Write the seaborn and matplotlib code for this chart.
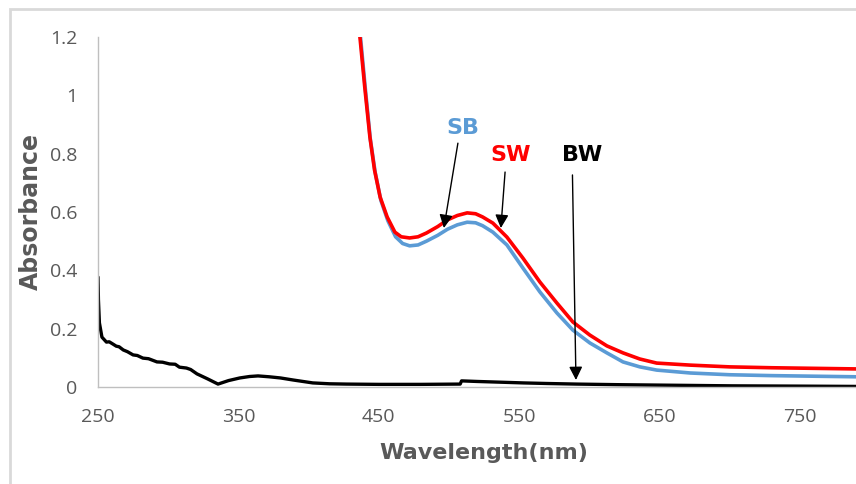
import matplotlib
matplotlib.use("Agg")
import matplotlib.pyplot as plt
import seaborn as sns
from matplotlib.patches import Rectangle

# ---------------- data ----------------
sw_wl = [436.6, 440, 443.7, 447, 451, 456, 461.5, 466, 472, 478, 484, 492, 499, 506,
         513, 519, 524, 531.3, 541.3, 552.7, 564.8, 576.9, 588.3, 600.4, 612.5, 624,
         636, 648, 672, 700, 730, 760, 790]
sw_abs = [1.2, 1.03, 0.857, 0.744, 0.651, 0.583, 0.531, 0.515, 0.511, 0.515, 0.528,
          0.55, 0.573, 0.588, 0.597, 0.594, 0.583, 0.562, 0.514, 0.442, 0.360, 0.288,
          0.223, 0.178, 0.141, 0.117, 0.096, 0.082, 0.075, 0.069, 0.066, 0.064, 0.062]

sb_wl = [437, 440.5, 444, 447.5, 451.5, 456.5, 462, 467, 472, 478, 484, 492, 499, 506,
         513, 519, 524, 531.3, 541.3, 552.7, 564.8, 576.9, 588.3, 600.4, 612.5, 624,
         636, 648, 672, 700, 730, 760, 790]
sb_abs = [1.2, 1.02, 0.85, 0.735, 0.64, 0.57, 0.515, 0.492, 0.484, 0.487, 0.5, 0.52,
          0.541, 0.556, 0.565, 0.563, 0.553, 0.531, 0.487, 0.408, 0.326, 0.254,
          0.195, 0.151, 0.117, 0.086, 0.069, 0.058, 0.048, 0.042, 0.039, 0.037, 0.035]

bw_wl = [250, 250.3, 251, 252.8, 256, 258, 260.7, 263, 265, 268, 271, 275, 278, 282,
         286, 292, 296, 301, 305, 308, 313, 316, 320.5, 328, 335.5, 343, 351, 358,
         364, 372, 380, 389, 396, 403, 415, 427, 450, 480, 508, 509, 520, 540, 553,
         570, 591, 620, 660, 702, 750, 790]
bw_abs = [0.377, 0.30, 0.22, 0.171, 0.154, 0.155, 0.147, 0.140, 0.138, 0.127, 0.121,
          0.11, 0.108, 0.099, 0.097, 0.086, 0.085, 0.079, 0.078, 0.068, 0.065, 0.060,
          0.045, 0.028, 0.010, 0.022, 0.031, 0.036, 0.038, 0.035, 0.031, 0.024,
          0.019, 0.014, 0.011, 0.010, 0.009, 0.009, 0.010, 0.021, 0.019, 0.016,
          0.014, 0.012, 0.010, 0.008, 0.006, 0.004, 0.003, 0.002]

x_ticks = [250, 350, 450, 550, 650, 750]
y_ticks = [0, 0.2, 0.4, 0.6, 0.8, 1.0, 1.2]
y_tick_labels = ["0", "0.2", "0.4", "0.6", "0.8", "1", "1.2"]

labels = ["SB", "SW", "BW"]
label_colors = ["#5B9BD5", "#FF0000", "#000000"]
label_xy = [(510, 0.888), (544, 0.795), (594.7, 0.795)]
arrow_tail = [(506.4, 0.836), (540, 0.737), (588, 0.727)]
arrow_head = [(496.4, 0.545), (537, 0.545), (590.5, 0.024)]

# ---------------- plot ----------------
sns.set_style("white")
plt.rcParams["font.family"] = ["DejaVu Sans"]
plt.rcParams["xtick.major.pad"] = 15
plt.rcParams["ytick.major.pad"] = 15
plt.rcParams["xtick.major.size"] = 0
plt.rcParams["ytick.major.size"] = 0

fig = plt.figure(figsize=(8.56, 4.84), dpi=100)
ax = fig.add_axes([98 / 856, 97 / 484, 1 - 98 / 856, 350 / 484])

# outer frame
fig.patches.append(Rectangle((10 / 856, -0.1), 1.2, (484 - 9) / 484 + 0.1,
                             transform=fig.transFigure, fill=False,
                             edgecolor="#D9D9D9", linewidth=2, zorder=0))

sns.lineplot(x=sb_wl, y=sb_abs, color="#5B9BD5", linewidth=2.6, ax=ax, sort=False)
sns.lineplot(x=sw_wl, y=sw_abs, color="#FF0000", linewidth=2.6, ax=ax, sort=False)
sns.lineplot(x=bw_wl, y=bw_abs, color="#000000", linewidth=2.4, ax=ax, sort=False)

ax.set_xlim(250, 790)
ax.set_ylim(0, 1.2)
ax.set_xticks(x_ticks)
ax.set_yticks(y_ticks)
ax.set_yticklabels(y_tick_labels)
ax.tick_params(axis="both", length=0, colors="#595959", labelsize=14)
ax.tick_params(axis="x", pad=15)
ax.tick_params(axis="y", pad=15)
for t in ax.get_xticklabels() + ax.get_yticklabels():
    t.set_fontfamily(["Open Sans", "DejaVu Sans"])

for side in ["top", "right"]:
    ax.spines[side].set_visible(False)
for side in ["left", "bottom"]:
    ax.spines[side].set_color("#BFBFBF")
    ax.spines[side].set_linewidth(1.0)

ax.set_xlabel("Wavelength(nm)", fontsize=16, fontweight="bold", color="#595959")
ax.set_ylabel("Absorbance", fontsize=17, fontweight="bold", color="#595959")
ax.xaxis.set_label_coords((484 - 98) / 758, -(443 - 387) / 350)
ax.yaxis.set_label_coords(-(98 - 43) / 758, (387 - 212) / 350)

for lab, col, xy, tail, head in zip(labels, label_colors, label_xy, arrow_tail, arrow_head):
    ax.text(xy[0], xy[1], lab, color=col, fontsize=16, fontweight="bold",
            ha="center", va="center")
    ax.annotate("", xy=head, xytext=tail,
                arrowprops=dict(arrowstyle="-|>", color="black", lw=1.0,
                                mutation_scale=20, shrinkA=0, shrinkB=0))

fig.savefig("out.png", dpi=100)
